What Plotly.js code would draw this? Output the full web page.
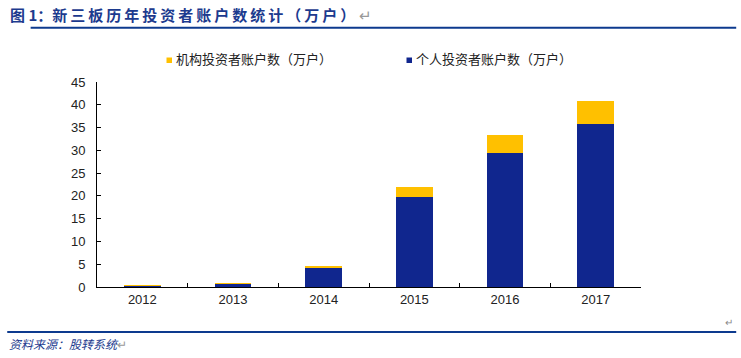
<!DOCTYPE html>
<html>
<head>
<meta charset="utf-8">
<script src="https://cdn.plot.ly/plotly-3.0.1.min.js"></script>
<style>html,body{margin:0;padding:0;background:#fff;}#chart{width:741px;height:358px;}</style>
</head>
<body>
<div id="chart"></div>
<script>
const years = ["2012", "2013", "2014", "2015", "2016", "2017"];
const individual = [0.3, 0.7, 4.2, 19.8, 29.5, 35.8];
const institution = [0.15, 0.2, 0.45, 2.2, 3.9, 5.0];
const seriesNames = ["机构投资者账户数（万户）", "个人投资者账户数（万户）"];
const yTicks = [0, 5, 10, 15, 20, 25, 30, 35, 40, 45];
const titleText = "新三板历年投资者账户数统计（万户）";

const blue = "#10268E";
const yellow = "#FFC000";
const navy = "#0D3A8E";

const traces = [
  {type: "bar", x: years, y: individual, name: seriesNames[1], marker: {color: blue}, hoverinfo: "skip"},
  {type: "bar", x: years, y: institution, name: seriesNames[0], marker: {color: yellow}, hoverinfo: "skip"}
];

const spaced = titleText.split("").join("\u2009");
const cjk = "'Noto Sans CJK SC', 'Liberation Sans', sans-serif";
const layout = {
  width: 741, height: 358,
  margin: {l: 97, r: 100, t: 82, b: 71, pad: 0},
  barmode: "stack",
  bargap: 0.595,
  showlegend: false,
  paper_bgcolor: "#fff", plot_bgcolor: "#fff",
  font: {family: "'Liberation Sans', Arial, sans-serif", size: 13, color: "#222"},
  xaxis: {
    type: "category",
    showline: true, linecolor: "#000", linewidth: 1,
    ticks: "inside", ticklen: 4, tickcolor: "#000", tickson: "boundaries",
    showgrid: false, zeroline: false,
    tickfont: {size: 13, color: "#222"}
  },
  yaxis: {
    range: [0, 45], tickvals: yTicks,
    showline: true, linecolor: "#000", linewidth: 1,
    ticks: "inside", ticklen: 4, tickcolor: "#000",
    showgrid: false, zeroline: false,
    tickfont: {size: 13, color: "#222"}, ticklabelstandoff: 8
  },
  shapes: [
    {type: "line", xref: "paper", yref: "paper", x0: -0.122, x1: 1.175, y0: 1.2645, y1: 1.2645, line: {color: navy, width: 2}},
    {type: "line", xref: "paper", yref: "paper", x0: -0.165, x1: 1.175, y0: -0.2195, y1: -0.2195, line: {color: navy, width: 2}},
    {type: "rect", xref: "paper", yref: "paper", x0: (166.5-97)/544, x1: (172-97)/544, y0: (287-63)/205, y1: (287-57.5)/205, line: {width: 0}, fillcolor: yellow},
    {type: "rect", xref: "paper", yref: "paper", x0: (406.5-97)/544, x1: (412-97)/544, y0: (287-63)/205, y1: (287-57.5)/205, line: {width: 0}, fillcolor: blue}
  ],
  annotations: [
    {xref: "paper", yref: "paper", x: (8-97)/544, y: (287-15)/205, xanchor: "left", yanchor: "middle", showarrow: false,
     text: "<b>图 1：" + spaced + "</b><span style='color:#999;font-weight:normal'> ↵</span>",
     font: {family: cjk, size: 15, color: "#1C3A8E"}},
    {xref: "paper", yref: "paper", x: (173.5-97)/544, y: (287-58.5)/205, xanchor: "left", yanchor: "middle", showarrow: false,
     text: seriesNames[0], font: {family: cjk, size: 13, color: "#222"}},
    {xref: "paper", yref: "paper", x: (414-97)/544, y: (287-58.5)/205, xanchor: "left", yanchor: "middle", showarrow: false,
     text: seriesNames[1], font: {family: cjk, size: 13, color: "#222"}},
    {xref: "paper", yref: "paper", x: (7-97)/544, y: (287-343)/205, xanchor: "left", yanchor: "middle", showarrow: false,
     text: "<i>资料来源：股转系统</i><span style='color:#999'>↵</span>", font: {family: cjk, size: 12, color: "#1C3A8E"}},
    {xref: "paper", yref: "paper", x: (729-97)/544, y: (287-321)/205, xanchor: "center", yanchor: "middle", showarrow: false,
     text: "↵", font: {family: cjk, size: 10, color: "#888"}}
  ]
};

Plotly.newPlot("chart", traces, layout, {staticPlot: true, displayModeBar: false});
</script>
</body>
</html>
